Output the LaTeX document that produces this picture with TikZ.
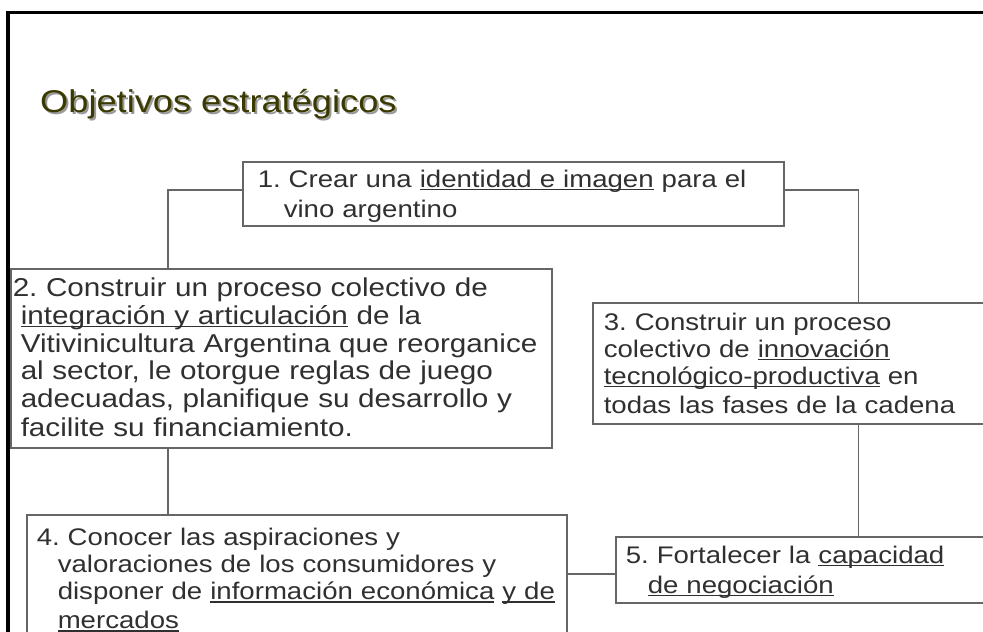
\documentclass[tikz,border=0pt]{standalone}
\usepackage{fontspec}
\setmainfont[FakeStretch=1.15]{Liberation Sans}
\usetikzlibrary{calc}

\definecolor{titleolive}{HTML}{3A3A00}
\definecolor{titleshade}{HTML}{9A9A9A}
\definecolor{boxline}{HTML}{666666}
\definecolor{boxtext}{HTML}{303030}

\newcommand\undl[1]{\leavevmode\setbox0=\hbox{#1}\rlap{\rule[-3pt]{\wd0}{1.3pt}}\box0\relax}
\newcommand\hangin[1][22pt]{\hspace*{#1}}
\newcommand\lnstrut{\rule[-6pt]{0pt}{29pt}}
\newcommand\shadowed[1]{\rlap{\kern2pt\raisebox{-2pt}{\color{titleshade}#1}}#1}

\begin{document}
\frenchspacing
\begin{tikzpicture}[x=1pt,y=-1pt,
  objbox/.style={draw=boxline,line width=1.5pt,anchor=north west,align=left,
    inner xsep=11pt,inner ysep=0pt,text=boxtext,
    font=\fontsize{24pt}{27pt}\selectfont,
    execute at begin node=\lnstrut,execute at end node=\lnstrut},
  link/.style={draw=boxline,line width=1.5pt}]
  \useasboundingbox (0,0) rectangle (983,632);
  \clip (0,0) rectangle (983,632);
  \fill[white] (0,0) rectangle (983,632);
  % slide frame
  \draw[line width=3.5pt] (8,650) -- (8,12.5) -- (1000,12.5);
  \node[anchor=base west,inner sep=0pt,text=titleolive,
    font=\fontsize{31.5pt}{36pt}\selectfont] (title) at (40,112)
    {\shadowed{Objetivos estratégicos}};

  % objectives
  \node[objbox,text width=511pt,inner xsep=15pt,minimum height=64pt] (b1) at (242,161)
    {1. Crear una \undl{identidad e imagen} para el\\
     \hangin[26pt]vino argentino};
  \node[objbox,text width=537pt,inner xsep=2pt,minimum height=179pt,
    font=\fontsize{25.8pt}{27.6pt}\selectfont] (b2) at (10,268)
    {2. Construir un proceso colectivo de\\
     \hangin[8pt]\undl{integración y articulación} de la\\
     \hangin[8pt]Vitivinicultura Argentina que reorganice\\
     \hangin[8pt]al sector, le otorgue reglas de juego\\
     \hangin[8pt]adecuadas, planifique su desarrollo y\\
     \hangin[8pt]facilite su financiamiento.};
  \node[objbox,text width=400pt,minimum height=121pt] (b3) at (592,302)
    {3. Construir un proceso\\
     colectivo de \undl{innovación}\\
     \undl{tecnológico-productiva} en\\
     todas las fases de la cadena};
  \node[objbox,text width=520pt,inner xsep=10pt,minimum height=128pt] (b4) at (26,514)
    {4. Conocer las aspiraciones y\\
     \hangin[21pt]valoraciones de los consumidores y\\
     \hangin[21pt]\mbox{disponer de \undl{información económica} \undl{y de}}\\
     \hangin[21pt]\undl{mercados}};
  \node[objbox,text width=380pt,inner xsep=10pt,minimum height=66pt] (b5) at (615,536)
    {5. Fortalecer la \undl{capacidad}\\
     \hangin\undl{de negociación}};

  % connectors
  \coordinate (trunkL) at (168,0);
  \coordinate (trunkR) at (858.5,0);
  \coordinate (link45) at (0,574);
  \draw[link] ([yshift=4pt]b1.west) -| (trunkL |- b2.north);
  \draw[link] ([yshift=4pt]b1.east) -| (trunkR |- b3.north);
  \draw[link] (trunkL |- b2.south) -- (trunkL |- b4.north);
  \draw[link] (trunkR |- b3.south) -- (trunkR |- b5.north);
  \draw[link] (b4.east |- link45) -- (b5.west |- link45);
\end{tikzpicture}
\end{document}
